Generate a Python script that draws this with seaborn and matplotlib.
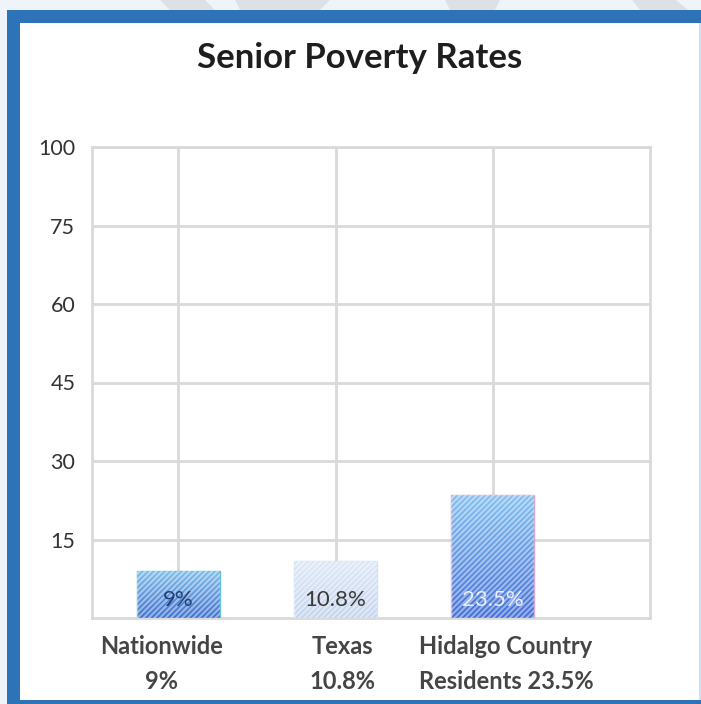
import numpy as np
import pandas as pd
import matplotlib
matplotlib.use("Agg")
import matplotlib.pyplot as plt
import matplotlib.transforms as mtransforms
from matplotlib.patches import Rectangle, Polygon
from matplotlib.colors import LinearSegmentedColormap
import seaborn as sns

# Chart data
categories = ["Nationwide", "Texas", "Hidalgo Country"]
category_labels = ["Nationwide\n9%", "Texas\n10.8%", "Hidalgo Country\nResidents 23.5%"]
rates = [9.0, 10.8, 23.5]
bar_texts = ["9%", "10.8%", "23.5%"]
tick_positions = [15, 30, 45, 60, 75, 90]
tick_labels = ["15", "30", "45", "60", "75", "100"]

sns.set_theme(style="white")
plt.rcParams["font.family"] = ["Lato", "DejaVu Sans"]
plt.rcParams["hatch.linewidth"] = 1.6

W, H = 701, 704
fig = plt.figure(figsize=(W / 100, H / 100), dpi=100)
fig.patch.set_facecolor("#eef4f9")

def px_rect(x0, y0, x1, y1, color, z):
    fig.add_artist(Rectangle((x0 / W, 1 - y1 / H), (x1 - x0) / W, (y1 - y0) / H,
                             transform=fig.transFigure, facecolor=color,
                             edgecolor="none", zorder=z))

# faint shapes in the top margin
for pts in [[(160, 0), (205, 0), (215, 10), (170, 10)],
            [(235, 0), (330, 0), (320, 10), (240, 10)],
            [(445, 0), (500, 0), (495, 10), (450, 10)],
            [(632, 0), (676, 0), (688, 10), (640, 10)]]:
    fig.add_artist(Polygon([(x / W, 1 - y / H) for x, y in pts], closed=True,
                           transform=fig.transFigure, facecolor="#dde1e5",
                           edgecolor="none", zorder=-3))

# blue card border and white card
px_rect(7, 10, 701, 704, "#2e72b8", -2)
px_rect(20, 23, 699, 700, "white", -1)
px_rect(699, 23, 701, 700, "#cfe0f0", -1)

ax = fig.add_axes([92 / W, 1 - 618 / H, (650 - 92) / W, (618 - 147) / H])
ax.set_facecolor("white")

df = pd.DataFrame({"category": categories, "rate": rates})
sns.barplot(data=df, x="category", y="rate", ax=ax, width=0.53,
            color="#5b95dc", saturation=1, zorder=3)

ax.set_xlim(-0.55, 3.0)
ax.set_ylim(0, 90)

grid_c = "#d9d9d9"
ax.set_yticks(tick_positions)
ax.set_yticklabels(tick_labels, fontsize=15.5, color="#333333")
ax.set_xticks(range(len(categories)))
ax.set_xticklabels(category_labels, fontsize=17, fontweight="bold",
                   color="#454545", linespacing=1.6)
ax.tick_params(axis="y", length=0, pad=12)
ax.tick_params(axis="x", length=0, pad=12.5)
# nudge the category labels sideways
for lbl, dx in zip(ax.get_xticklabels(), [-17, 7, 13]):
    lbl.set_transform(lbl.get_transform() +
                      mtransforms.ScaledTranslation(dx / 100, 0, fig.dpi_scale_trans))
ax.grid(True, color=grid_c, linewidth=2.0, zorder=0)
ax.set_axisbelow(True)
for s in ax.spines.values():
    s.set_visible(True)
    s.set_color(grid_c)
    s.set_linewidth(2.0)
ax.set_xlabel("")
ax.set_ylabel("")

# gradient fills with diagonal stripes
grads = [("#7dbde9", "#3a6dcf"), ("#dde8f7", "#c3d3ee"), ("#80bff0", "#3f6bd6")]
edges = ["#66c2da", "#d6e2f3", "#d9a9cf"]
text_colors = ["#233f78", "#3a3a3a", "#e9eefb"]
for patch, (top_c, bot_c), ec, txt, tc in zip(ax.patches, grads, edges, bar_texts, text_colors):
    x0, y0 = patch.get_x(), patch.get_y()
    w, h = patch.get_width(), patch.get_height()
    cmap = LinearSegmentedColormap.from_list("g", [bot_c, top_c])
    grad = np.linspace(0, 1, 256).reshape(-1, 1)
    im = ax.imshow(grad, cmap=cmap, origin="lower", aspect="auto",
                   extent=[x0, x0 + w, y0, y0 + h], zorder=3)
    im.set_clip_path(patch)
    patch.set_facecolor("none")
    patch.set_edgecolor(ec)
    patch.set_linewidth(1.0)
    patch.set_zorder(4)
    ax.add_patch(Rectangle((x0, y0), w, h, facecolor="none",
                           edgecolor=(1, 1, 1, 0.45), hatch="//////",
                           linewidth=0, zorder=4))
    ax.text(x0 + w / 2, 2.3, txt, ha="center", va="baseline",
            fontsize=16, color=tc, zorder=5)

ax.set_xlim(-0.55, 3.0)
ax.set_ylim(0, 90)

fig.text(360 / W, 1 - 58 / H, "Senior Poverty Rates", ha="center", va="center",
         fontsize=25, fontweight="bold", color="#1e1e1e")

fig.savefig("out.png", dpi=100, facecolor=fig.get_facecolor())
